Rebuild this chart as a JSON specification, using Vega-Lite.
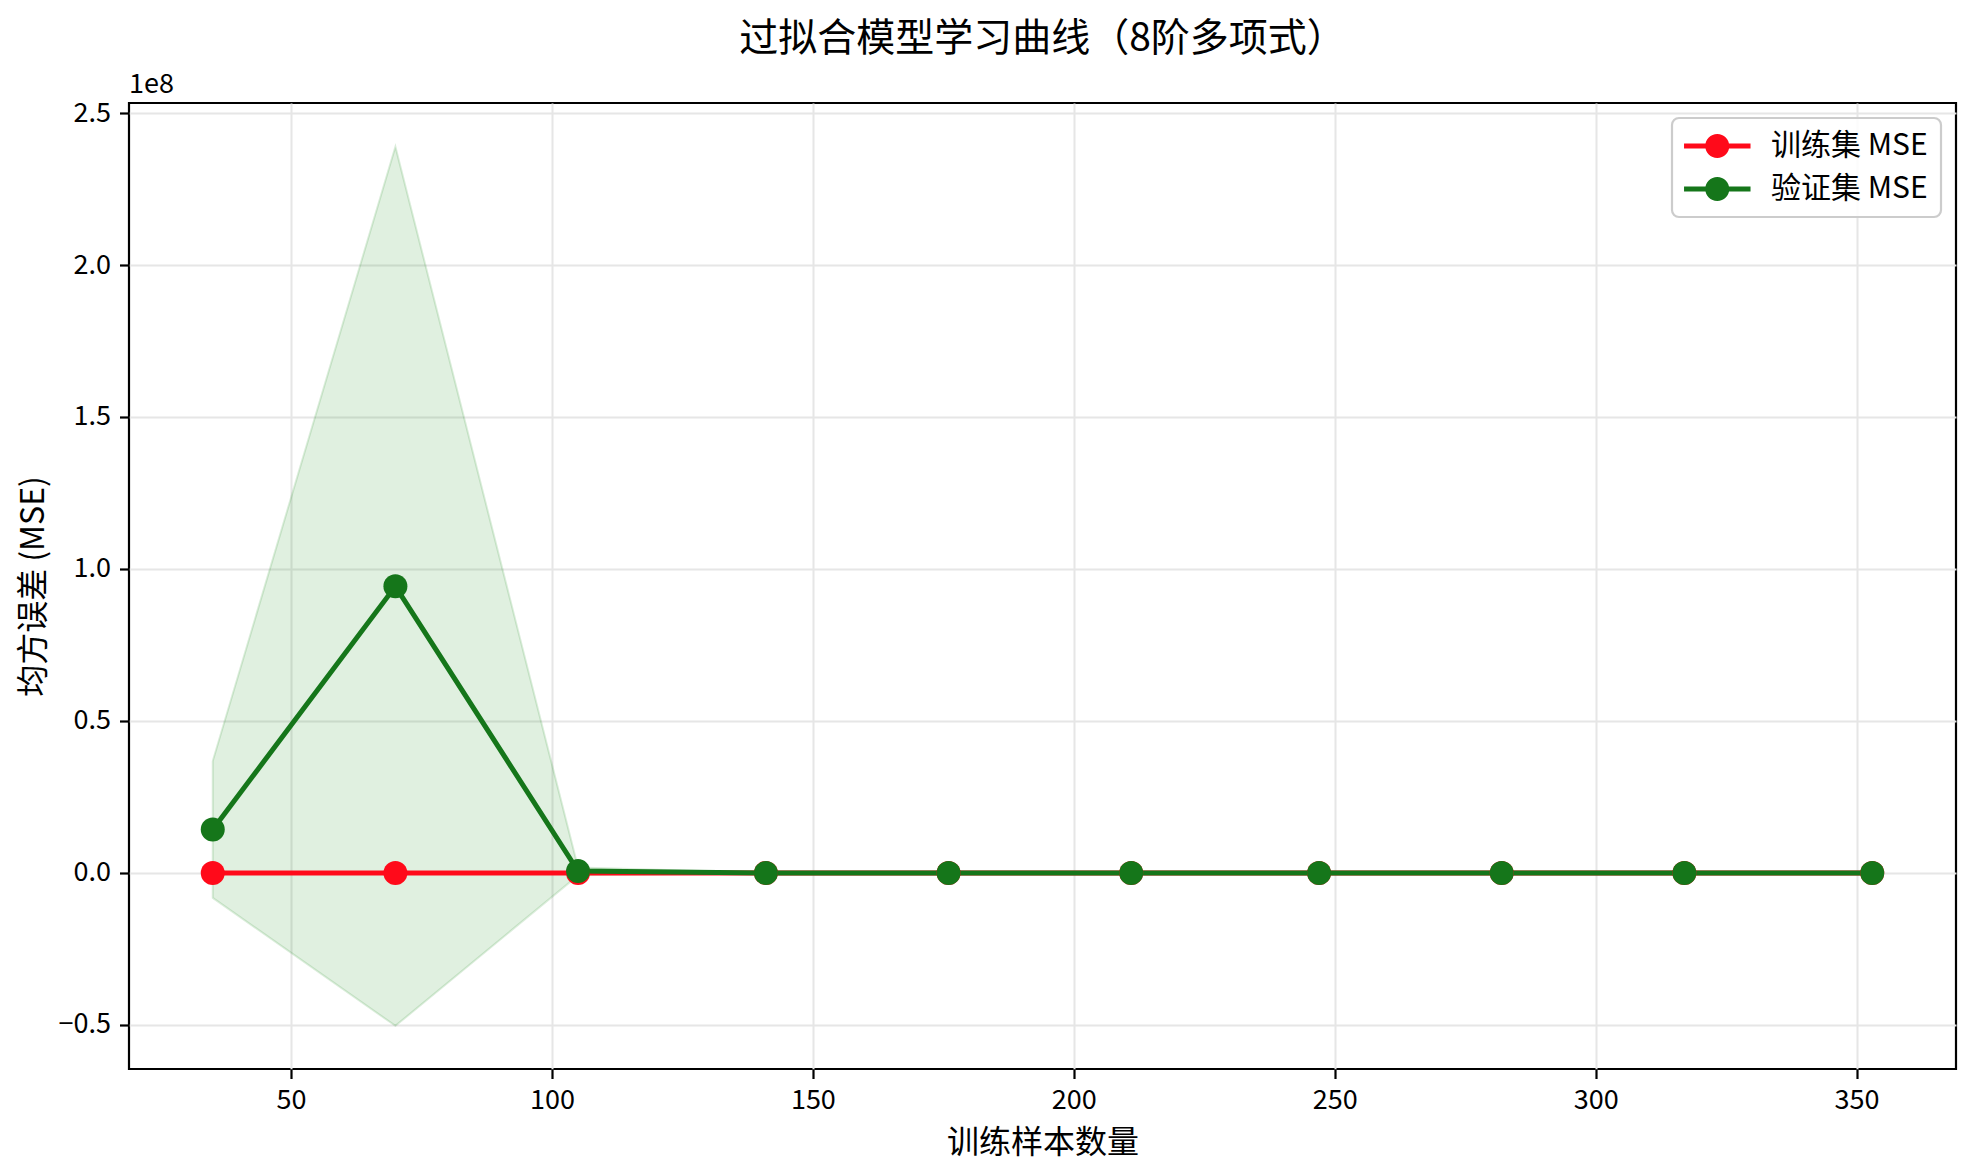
{
  "$schema": "https://vega.github.io/schema/vega-lite/v6.json",
  "width": 1827,
  "height": 966,
  "autosize": {"type": "none"},
  "padding": {"left": 129, "top": 103, "right": 22, "bottom": 107},
  "background": "white",
  "title": {
    "text": "过拟合模型学习曲线（8阶多项式）",
    "font": "Noto Sans CJK SC",
    "fontSize": 39,
    "fontWeight": "normal",
    "color": "black",
    "anchor": "middle",
    "frame": "group",
    "offset": 12
  },
  "config": {
    "view": {"stroke": "black", "strokeWidth": 2.2},
    "axis": {
      "domain": false,
      "labelFont": "Noto Sans CJK SC",
      "labelFontSize": 27,
      "labelColor": "black",
      "labelPadding": 9,
      "labelOverlap": false,
      "labelBound": false,
      "labelFlush": false,
      "tickColor": "black",
      "tickWidth": 2.2,
      "tickSize": 9.5,
      "gridColor": "#e6e6e6",
      "gridWidth": 2,
      "titleFont": "Noto Sans CJK SC",
      "titleFontSize": 32,
      "titleFontWeight": "normal",
      "titleColor": "black"
    },
    "legend": {
      "labelFont": "Noto Sans CJK SC",
      "labelFontSize": 30,
      "labelColor": "black"
    }
  },
  "datasets": {
    "curve": [
      {"n": 35, "series": "训练集 MSE", "mse": 1200},
      {"n": 70, "series": "训练集 MSE", "mse": 2100},
      {"n": 105, "series": "训练集 MSE", "mse": 2600},
      {"n": 141, "series": "训练集 MSE", "mse": 3000},
      {"n": 176, "series": "训练集 MSE", "mse": 3200},
      {"n": 211, "series": "训练集 MSE", "mse": 3300},
      {"n": 247, "series": "训练集 MSE", "mse": 3400},
      {"n": 282, "series": "训练集 MSE", "mse": 3450},
      {"n": 317, "series": "训练集 MSE", "mse": 3500},
      {"n": 353, "series": "训练集 MSE", "mse": 3550},
      {"n": 35, "series": "验证集 MSE", "mse": 14300000, "lo": -8200000, "hi": 36800000},
      {"n": 70, "series": "验证集 MSE", "mse": 94300000, "lo": -50300000, "hi": 238900000},
      {"n": 105, "series": "验证集 MSE", "mse": 600000, "lo": -800000, "hi": 1800000},
      {"n": 141, "series": "验证集 MSE", "mse": 9000, "lo": 2000, "hi": 16000},
      {"n": 176, "series": "验证集 MSE", "mse": 6000, "lo": 3000, "hi": 9000},
      {"n": 211, "series": "验证集 MSE", "mse": 5000, "lo": 3500, "hi": 6500},
      {"n": 247, "series": "验证集 MSE", "mse": 4700, "lo": 3800, "hi": 5600},
      {"n": 282, "series": "验证集 MSE", "mse": 4500, "lo": 3900, "hi": 5100},
      {"n": 317, "series": "验证集 MSE", "mse": 4400, "lo": 4000, "hi": 4800},
      {"n": 353, "series": "验证集 MSE", "mse": 4300, "lo": 4000, "hi": 4600}
    ]
  },
  "data": {"name": "curve"},
  "encoding": {
    "x": {
      "field": "n",
      "type": "quantitative",
      "scale": {"domain": [18.95, 369.05], "nice": false, "zero": false},
      "axis": {"title": "训练样本数量", "values": [50, 100, 150, 200, 250, 300, 350], "titlePadding": 14}
    }
  },
  "layer": [
    {
      "transform": [{"filter": "datum.series === '验证集 MSE'"}],
      "mark": {"type": "area", "fill": "#008000", "fillOpacity": 0.12, "stroke": "#008000", "strokeOpacity": 0.14, "strokeWidth": 2},
      "encoding": {
        "y": {
          "field": "lo",
          "type": "quantitative",
          "scale": {"domain": [-64500000, 253300000], "nice": false, "zero": false},
          "axis": {
            "title": "均方误差 (MSE)",
            "values": [-50000000, 0, 50000000, 100000000, 150000000, 200000000, 250000000],
            "labelExpr": "format(datum.value / 100000000, '.1f')",
            "titlePadding": 8
          }
        },
        "y2": {"field": "hi"}
      }
    },
    {
      "mark": {"type": "line", "strokeWidth": 5},
      "encoding": {
        "y": {"field": "mse", "type": "quantitative"},
        "color": {
          "field": "series",
          "type": "nominal",
          "scale": {"domain": ["训练集 MSE", "验证集 MSE"], "range": ["#ff0a1a", "#15761a"]},
          "legend": {
            "title": null,
            "orient": "top-right",
            "offset": 15,
            "symbolType": "M-1.33,-0.21H4.21V0.21H-1.33Z M2.44,0A1,1 0 1,1 0.44,0A1,1 0 1,1 2.44,0Z",
            "symbolSize": 576,
            "symbolStrokeWidth": 0,
            "symbolOpacity": 1,
            "labelOffset": 56,
            "padding": 13,
            "rowPadding": 13,
            "fillColor": "rgba(255,255,255,0.85)",
            "strokeColor": "#cccccc",
            "cornerRadius": 7,
            "encode": {"legend": {"update": {"strokeWidth": {"value": 2.2}}}}
          }
        }
      }
    },
    {
      "mark": {"type": "point", "filled": true, "opacity": 1, "size": 576},
      "encoding": {
        "y": {"field": "mse", "type": "quantitative"},
        "color": {"field": "series", "type": "nominal"}
      }
    },
    {
      "data": {"values": [{"label": "1e8", "x0": 18.95, "y0": 253300000}]},
      "mark": {"type": "text", "align": "left", "baseline": "alphabetic", "dy": -10, "font": "Noto Sans CJK SC", "fontSize": 27, "fill": "black", "clip": false},
      "encoding": {
        "x": {"field": "x0", "type": "quantitative"},
        "y": {"field": "y0", "type": "quantitative"},
        "text": {"field": "label", "type": "nominal"}
      }
    }
  ]
}
